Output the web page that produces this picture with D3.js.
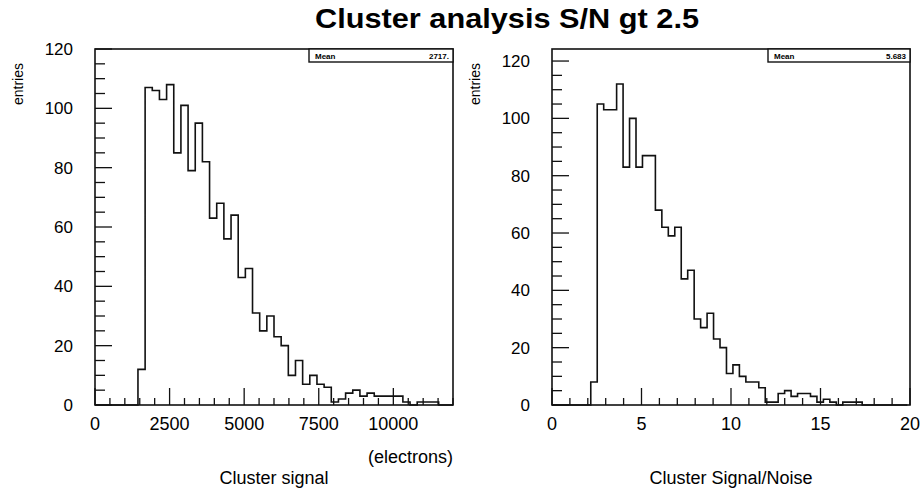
<!DOCTYPE html>
<html><head><meta charset="utf-8">
<script src="https://cdn.jsdelivr.net/npm/d3@7"></script>
<style>
html,body{margin:0;padding:0;background:#fff;}
svg{display:block;}
text{font-family:"Liberation Sans",Arial,Helvetica,sans-serif;fill:#000;}
</style></head>
<body>
<svg id="c" width="923" height="488"></svg>
<script>
// ---- data ----
const title = "Cluster analysis S/N gt 2.5";
// Left: cluster signal (electrons), 50 bins of 240 from 0
const signalBinStart = 0;
const signalBinWidth = 240;
const signalCounts = [0,0,0,0,0,0,12,107,106,103,108,85,101,79,95,82,63,68,56,64,
  43,46,31,25,30,23,20,10,15,7,10,7,6,1,2,4,5,3,4,3,
  3,3,3,1,0,1,1,1,0,0];
const signalXTicks = [0,2500,5000,7500,10000];
const signalYTicks = [0,20,40,60,80,100,120];
const signalMean = "2717.";
// Right: cluster S/N
const snBinStart = 0;
const snBinWidth = 0.361;
const snCounts = [0,0,0,0,0,0,8,105,103,103,112,83,100,83,87,87,68,62,59,62,
  44,47,30,27,32,23,20,11,14,10,8,8,6,1,1,4,5,3,4,4,
  3,1,2,1,0,1,1,1,0,0,0,0,0,0,0];
const snXTicks = [0,5,10,15,20];
const snYTicks = [0,20,40,60,80,100,120];
const snMean = "5.683";

const svg = d3.select("#c");

svg.append("text").attr("x", 507).attr("y", 28).attr("text-anchor","middle")
  .attr("textLength", 384).attr("lengthAdjust","spacingAndGlyphs")
  .style("font-weight","bold").style("font-size","28px").text(title);

function panel(o){
  const g = svg.append("g");
  const x = d3.scaleLinear().domain(o.xDomain).range([o.left, o.right]);
  const y = d3.scaleLinear().domain(o.yDomain).range([o.bottom, o.top]);
  // histogram outline
  let p = d3.path();
  p.moveTo(x(o.binStart), y(0));
  o.counts.forEach((v,i)=>{
    const a = o.binStart + i*o.binWidth, b = a + o.binWidth;
    p.lineTo(x(a), y(v)); p.lineTo(x(b), y(v));
  });
  p.lineTo(x(o.binStart + o.counts.length*o.binWidth), y(0));
  g.append("path").attr("d", p.toString()).attr("fill","none")
    .attr("stroke","#111").attr("stroke-width",1.6);
  // ticks x
  const xMinor = d3.range(o.xDomain[0], o.xDomain[1]+1e-9, o.xMinorStep);
  xMinor.forEach(t=>{
    const major = o.xTicks.some(m=>Math.abs(m-t)<1e-6);
    g.append("line").attr("x1",x(t)).attr("x2",x(t)).attr("y1",o.bottom).attr("y2",o.bottom-(major?17:7))
      .attr("stroke","#111").attr("stroke-width",1.3);
  });
  const yMinor = d3.range(0, 120+1e-9, 5);
  yMinor.forEach(t=>{
    const major = o.yTicks.includes(t);
    g.append("line").attr("x1",o.left).attr("x2",o.left+(major?17:10)).attr("y1",y(t)).attr("y2",y(t))
      .attr("stroke","#111").attr("stroke-width",1.3);
  });
  // frame
  g.append("rect").attr("x",o.left).attr("y",o.top).attr("width",o.right-o.left).attr("height",o.bottom-o.top)
    .attr("fill","none").attr("stroke","#111").attr("stroke-width",1.6);
  // labels
  o.xTicks.forEach(t=>{
    g.append("text").attr("x",x(t)).attr("y",o.bottom+25).attr("text-anchor","middle")
      .style("font-size","18px").text(d3.format("d")(t));
  });
  o.yTicks.forEach(t=>{
    g.append("text").attr("x",o.left-22).attr("y",y(t)+6).attr("text-anchor","end")
      .style("font-size","17px").text(t);
  });
  g.append("text").attr("transform",`translate(${o.left-72},${o.top+14}) rotate(-90)`)
    .attr("text-anchor","end").style("font-size","14px").text("entries");
  // stat box
  g.append("rect").attr("x",o.statX).attr("y",o.top).attr("width",o.right-o.statX).attr("height",13)
    .attr("fill","#fff").attr("stroke","#111").attr("stroke-width",1.4);
  g.append("text").attr("x",o.statX+6).attr("y",o.top+10).style("font-size","8px").style("font-weight","bold").text("Mean");
  g.append("text").attr("x",o.right-4).attr("y",o.top+10).attr("text-anchor","end").style("font-size","8px").style("font-weight","bold").text(o.mean);
  // axis titles
  if (o.unit) g.append("text").attr("x",o.right).attr("y",463).attr("text-anchor","end").style("font-size","18px").text(o.unit);
  g.append("text").attr("x",(o.left+o.right)/2).attr("y",484).attr("text-anchor","middle").style("font-size","18px").text(o.xTitle);
}

panel({left:95,right:453,top:49,bottom:405,xDomain:[0,12000],yDomain:[0,120],
  binStart:signalBinStart,binWidth:signalBinWidth,counts:signalCounts,
  xTicks:signalXTicks,xMinorStep:500,yTicks:signalYTicks,statX:309,mean:signalMean,
  unit:"(electrons)",xTitle:"Cluster signal"});
panel({left:552,right:910,top:49,bottom:405,xDomain:[0,20],yDomain:[0,124.2],
  binStart:snBinStart,binWidth:snBinWidth,counts:snCounts,
  xTicks:snXTicks,xMinorStep:1,yTicks:snYTicks,statX:768,mean:snMean,
  xTitle:"Cluster Signal/Noise"});
</script>
</body></html>
